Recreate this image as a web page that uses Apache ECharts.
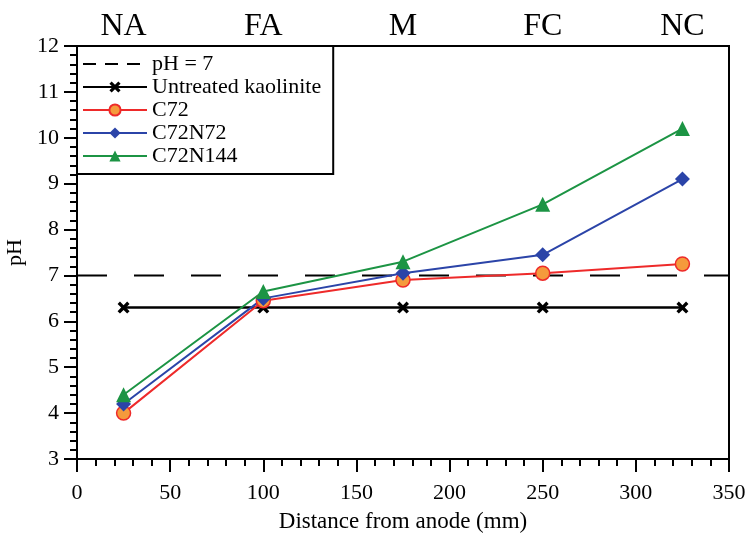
<!DOCTYPE html>
<html><head><meta charset="utf-8">
<script src="https://cdn.jsdelivr.net/npm/echarts@6/dist/echarts.min.js"></script>
<style>html,body{margin:0;padding:0;background:#fff}#c{width:748px;height:537px}</style>
</head><body><div id="c"></div>
<script>
const distances = [25, 100, 175, 250, 325];
const zoneLabels = ['NA', 'FA', 'M', 'FC', 'NC'];
const untreated = [6.3, 6.3, 6.3, 6.3, 6.3];
const c72 = [4.0, 6.45, 6.9, 7.05, 7.25];
const c72n72 = [4.2, 6.5, 7.05, 7.45, 9.1];
const c72n144 = [4.4, 6.65, 7.3, 8.55, 10.2];
const neutral = [[0, 7], [350, 7]];

const pair = (arr) => distances.map((d, i) => [d, arr[i]]);
const font = 'Liberation Serif';
const xSym = 'path://M2,0 L5,3 L8,0 L10,2 L7,5 L10,8 L8,10 L5,7 L2,10 L0,8 L3,5 L0,2 Z';

const chart = echarts.init(document.getElementById('c'));
chart.setOption({
  animation: false,
  textStyle: {fontFamily: font},
  grid: {left: 77, right: 19, top: 46, bottom: 78, show: true, borderColor: '#000', borderWidth: 2,
         containLabel: false, outerBoundsMode: 'none'},
  legend: {
    left: 77, top: 46, orient: 'vertical',
    backgroundColor: '#fff', borderColor: '#000', borderWidth: 2, borderRadius: 0,
    padding: [7, 12, 7, 5], itemGap: 1, itemWidth: 64, itemHeight: 14,
    textStyle: {fontFamily: font, fontSize: 22, color: '#000', lineHeight: 22},
    data: [
      {name: 'pH = 7', lineStyle: {type: [13, 9], width: 2}, itemStyle: {opacity: 0}},
      'Untreated kaolinite', 'C72', 'C72N72', 'C72N144'
    ]
  },
  xAxis: [{
    type: 'value', min: 0, max: 350, interval: 50,
    name: 'Distance from anode (mm)', nameLocation: 'middle', nameGap: 51,
    nameTextStyle: {fontFamily: font, fontSize: 23, color: '#000'},
    axisLine: {lineStyle: {color: '#000', width: 2}},
    axisTick: {length: 13, lineStyle: {color: '#000', width: 2}},
    minorTick: {show: true, splitNumber: 5, length: 7, lineStyle: {color: '#000', width: 2}},
    axisLabel: {fontFamily: font, fontSize: 22, color: '#000', margin: 23},
    splitLine: {show: false}
  }, {
    type: 'value', position: 'top', min: 0, max: 350,
    axisLine: {show: true, lineStyle: {color: '#000', width: 2}},
    axisTick: {show: false},
    axisLabel: {
      fontFamily: font, fontSize: 32, color: '#000', margin: 3,
      customValues: distances,
      formatter: (v) => zoneLabels[distances.indexOf(v)] || ''
    },
    splitLine: {show: false}
  }],
  yAxis: {
    type: 'value', min: 3, max: 12, interval: 1,
    name: 'pH', nameLocation: 'middle', nameGap: 42,
    nameTextStyle: {fontFamily: font, fontSize: 22, color: '#000'},
    axisLine: {show: true, lineStyle: {color: '#000', width: 2}},
    axisTick: {show: true, length: 13, lineStyle: {color: '#000', width: 2}},
    minorTick: {show: true, splitNumber: 5, length: 7, lineStyle: {color: '#000', width: 2}},
    axisLabel: {fontFamily: font, fontSize: 22, color: '#000', margin: 18},
    splitLine: {show: false}
  },
  series: [
    {name: 'pH = 7', type: 'line', data: neutral, symbol: 'none',
     lineStyle: {color: '#000', width: 2, type: [30, 27]}, itemStyle: {color: '#000'}, z: 1},
    {name: 'Untreated kaolinite', type: 'line', data: pair(untreated), symbol: xSym, symbolSize: 12,
     lineStyle: {color: '#000', width: 2.5}, itemStyle: {color: '#000'}},
    {name: 'C72', type: 'line', data: pair(c72), symbol: 'circle', symbolSize: 14,
     lineStyle: {color: '#ee2a2a', width: 2}, itemStyle: {color: '#f59a3c', borderColor: '#ee2a2a', borderWidth: 1.5}},
    {name: 'C72N72', type: 'line', data: pair(c72n72), symbol: 'diamond', symbolSize: 15,
     lineStyle: {color: '#2b44a8', width: 2}, itemStyle: {color: '#2b44a8'}},
    {name: 'C72N144', type: 'line', data: pair(c72n144), symbol: 'triangle', symbolSize: 15,
     lineStyle: {color: '#1c9444', width: 2}, itemStyle: {color: '#1c9444'}}
  ]
});
</script></body></html>
